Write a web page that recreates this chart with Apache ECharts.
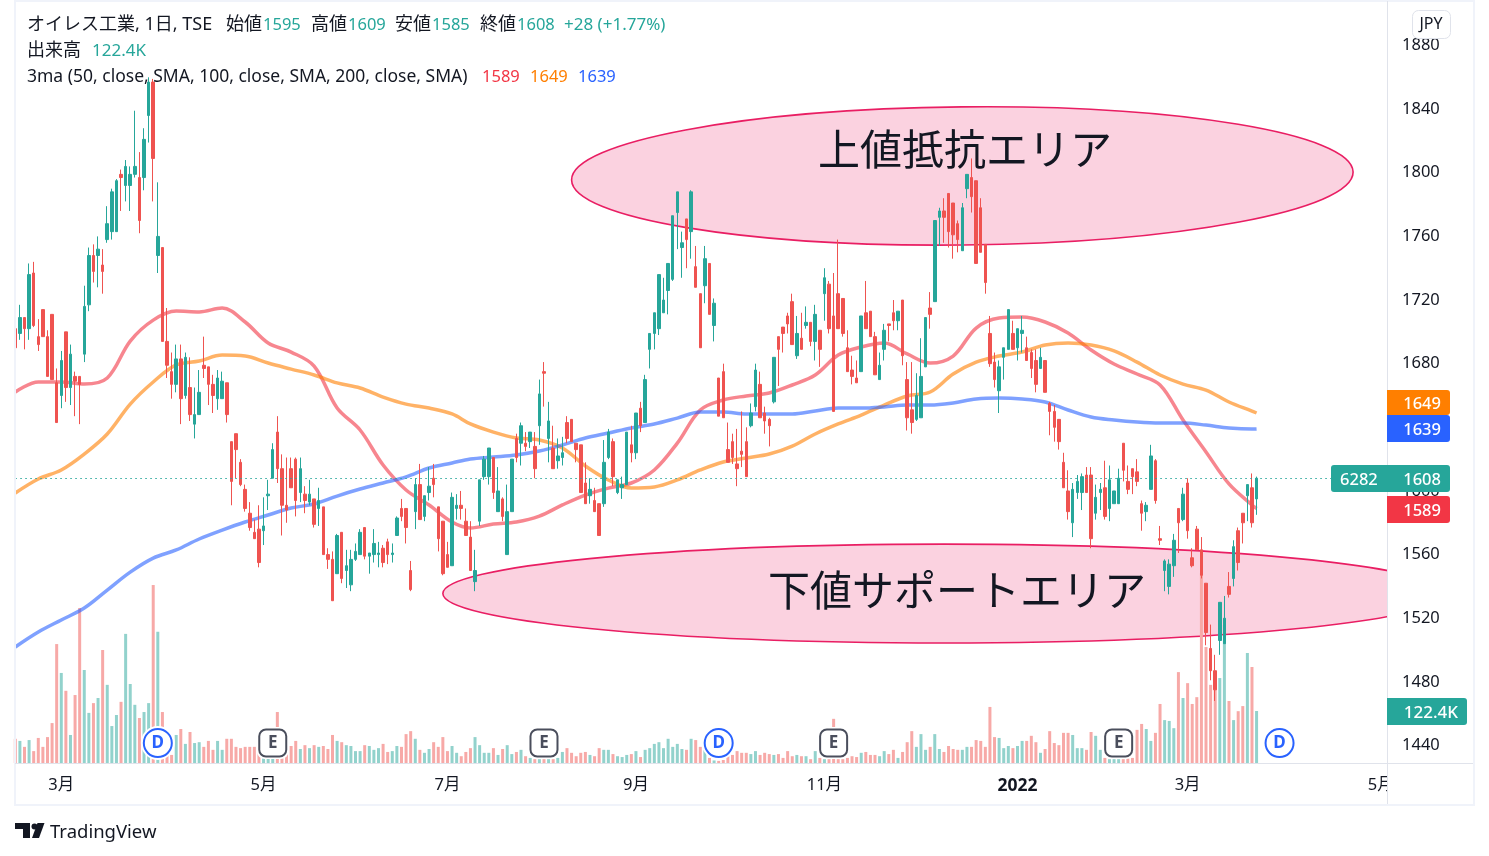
<!DOCTYPE html>
<html lang="ja">
<head>
<meta charset="UTF-8">
<title>オイレス工業</title>
<style>
  html, body { margin: 0; padding: 0; background: #fff; }
  #main { width: 1489px; height: 856px; }
</style>
</head>
<body>
<div id="main"></div>
<script src="https://cdn.jsdelivr.net/npm/echarts@6/dist/echarts.min.js"></script>
<script>
// 日足 OHLC (readings from the picture)
var opens = [
  1702,1699,1709,1702,1737,1697,1714,1697,1711,1668,
  1660,1700,1665,1672,1672,1686,1717,1748,1748,1742,
  1758,1763,1763,1799,1792,1792,1799,1797,1797,1836,
  1857,1748,1753,1694,1675,1667,1683,1660,1665,1642,
  1648,1679,1678,1667,1658,1658,1668,1631,1636,1618,
  1601,1586,1574,1576,1575,1597,1608,1637,1614,1591,
  1614,1620,1599,1598,1593,1595,1589,1590,1560,1557,
  1548,1574,1550,1541,1557,1560,1577,1559,1560,1560,
  1564,1568,1560,1572,1589,1589,1550,1587,1604,1584,
  1599,1608,1590,1581,1560,1553,1589,1591,1581,1571,
  1543,1581,1609,1609,1621,1587,1595,1560,1587,1633,
  1630,1630,1631,1628,1641,1675,1633,1627,1619,1621,
  1643,1645,1630,1629,1605,1597,1594,1592,1592,1621,
  1631,1599,1602,1604,1629,1624,1652,1643,1689,1699,
  1702,1712,1726,1733,1775,1753,1771,1763,1741,1724,
  1729,1743,1704,1671,1675,1626,1631,1617,1625,1631,
  1641,1653,1667,1649,1645,1656,1697,1703,1710,1719,
  1685,1696,1704,1706,1694,1701,1724,1730,1710,1724,
  1721,1690,1676,1671,1675,1712,1713,1697,1670,1689,
  1705,1712,1707,1720,1670,1651,1645,1646,1678,1715,
  1719,1772,1776,1787,1781,1768,1751,1790,1797,1795,
  1778,1755,1699,1681,1663,1684,1689,1699,1690,1699,
  1690,1687,1682,1677,1682,1655,1650,1645,1618,1600,
  1580,1599,1599,1610,1610,1586,1599,1602,1589,1592,
  1592,1630,1606,1614,1612,1592,1587,1601,1619,1570,
  1550,1540,1553,1589,1582,1605,1558,1576,1563,1542,
  1501,1487,1506,1504,1540,1545,1575,1586,1597,1602,
  1595
];
var closes = [
  1690,1709,1702,1736,1704,1692,1697,1672,1670,1643,
  1682,1665,1686,1669,1667,1716,1748,1738,1752,1738,
  1768,1788,1795,1797,1804,1799,1804,1770,1821,1857,
  1809,1760,1694,1679,1667,1683,1658,1684,1648,1648,
  1662,1677,1667,1660,1671,1669,1648,1606,1626,1604,
  1589,1577,1570,1555,1578,1598,1626,1614,1591,1588,
  1602,1594,1614,1594,1598,1579,1594,1560,1557,1531,
  1572,1545,1553,1557,1562,1574,1559,1561,1567,1561,
  1555,1560,1561,1583,1584,1577,1538,1604,1582,1597,
  1603,1604,1570,1548,1552,1596,1591,1589,1572,1550,
  1550,1607,1620,1627,1599,1600,1584,1587,1620,1621,
  1641,1628,1637,1614,1661,1674,1644,1614,1622,1624,
  1633,1631,1626,1599,1592,1601,1587,1572,1618,1637,
  1609,1607,1604,1637,1624,1649,1641,1670,1699,1712,
  1736,1720,1743,1773,1788,1756,1758,1788,1728,1690,
  1746,1711,1718,1647,1646,1618,1621,1614,1623,1609,
  1649,1676,1646,1644,1641,1684,1689,1699,1705,1692,
  1699,1689,1706,1694,1711,1689,1734,1702,1650,1702,
  1699,1675,1672,1668,1710,1702,1697,1673,1679,1701,
  1704,1707,1713,1685,1646,1643,1660,1672,1709,1711,
  1770,1776,1772,1763,1761,1758,1778,1799,1785,1743,
  1750,1731,1680,1670,1678,1690,1714,1689,1702,1701,
  1682,1677,1667,1684,1662,1650,1640,1631,1602,1587,
  1601,1606,1609,1599,1570,1596,1601,1584,1607,1600,
  1608,1613,1601,1609,1606,1586,1591,1622,1594,1569,
  1556,1554,1569,1580,1598,1575,1553,1563,1547,1511,
  1487,1475,1530,1520,1535,1565,1555,1580,1604,1580,
  1608
];
var highs = [
  1710,1717,1709,1743,1744,1708,1714,1701,1711,1677,
  1688,1700,1692,1675,1672,1729,1753,1755,1760,1752,
  1779,1790,1796,1802,1808,1804,1839,1813,1828,1860,
  1859,1794,1753,1715,1687,1692,1692,1687,1684,1665,
  1676,1697,1678,1673,1676,1675,1668,1631,1636,1620,
  1604,1593,1582,1591,1596,1607,1630,1647,1623,1621,
  1621,1621,1621,1603,1607,1595,1602,1590,1564,1562,
  1573,1574,1563,1563,1567,1576,1577,1561,1576,1568,
  1566,1570,1567,1584,1595,1589,1556,1608,1617,1597,
  1615,1617,1590,1581,1568,1599,1598,1600,1589,1581,
  1563,1607,1622,1627,1621,1615,1596,1604,1620,1636,
  1643,1637,1637,1637,1670,1681,1656,1641,1633,1634,
  1647,1645,1630,1629,1618,1608,1602,1592,1632,1639,
  1633,1607,1609,1637,1641,1649,1656,1673,1699,1712,
  1736,1734,1743,1773,1788,1763,1771,1789,1754,1724,
  1754,1743,1721,1671,1680,1643,1636,1639,1650,1640,
  1655,1680,1675,1653,1646,1684,1697,1703,1712,1724,
  1710,1712,1716,1706,1717,1701,1740,1732,1737,1758,
  1721,1701,1685,1682,1710,1732,1713,1700,1687,1705,
  1705,1720,1713,1720,1681,1681,1674,1696,1709,1725,
  1770,1778,1784,1787,1781,1770,1781,1799,1809,1795,
  1784,1755,1710,1687,1682,1690,1714,1707,1702,1710,
  1697,1689,1689,1690,1682,1656,1654,1645,1624,1613,
  1605,1610,1611,1615,1615,1604,1605,1619,1616,1600,
  1614,1630,1616,1614,1620,1594,1593,1629,1620,1578,
  1557,1557,1573,1589,1602,1608,1564,1578,1571,1542,
  1516,1497,1530,1534,1549,1569,1577,1586,1604,1611,
  1609
];
var lows = [
  1680,1695,1689,1695,1703,1688,1697,1672,1670,1643,
  1652,1656,1654,1647,1642,1681,1713,1731,1728,1724,
  1756,1758,1763,1776,1782,1776,1797,1762,1789,1819,
  1782,1737,1694,1671,1658,1662,1642,1658,1644,1633,
  1648,1671,1654,1649,1651,1658,1643,1591,1608,1603,
  1587,1575,1570,1552,1566,1588,1608,1605,1572,1580,
  1602,1584,1593,1586,1591,1577,1578,1560,1551,1531,
  1548,1542,1539,1537,1556,1560,1557,1548,1555,1552,
  1552,1554,1555,1572,1581,1567,1537,1576,1582,1581,
  1594,1596,1562,1547,1552,1553,1582,1582,1572,1550,
  1537,1578,1607,1604,1595,1587,1581,1560,1587,1618,
  1616,1625,1627,1608,1629,1653,1618,1614,1614,1616,
  1630,1631,1618,1599,1592,1592,1587,1572,1590,1620,
  1603,1598,1595,1604,1618,1620,1637,1643,1677,1689,
  1698,1712,1711,1732,1752,1734,1740,1746,1728,1690,
  1718,1711,1694,1647,1646,1618,1617,1603,1615,1609,
  1640,1650,1646,1636,1628,1655,1666,1687,1699,1692,
  1683,1689,1702,1691,1682,1678,1707,1699,1650,1702,
  1697,1675,1667,1668,1675,1702,1697,1673,1670,1682,
  1694,1701,1701,1679,1638,1636,1644,1646,1678,1702,
  1719,1754,1756,1753,1746,1750,1751,1784,1775,1743,
  1750,1724,1678,1665,1649,1670,1689,1689,1682,1687,
  1682,1671,1662,1677,1662,1635,1631,1626,1602,1582,
  1571,1595,1588,1599,1564,1582,1588,1582,1581,1592,
  1592,1606,1598,1598,1603,1575,1581,1601,1592,1566,
  1537,1535,1546,1561,1581,1570,1552,1563,1545,1503,
  1481,1468,1497,1504,1533,1540,1550,1567,1581,1577,
  1585
];
// 出来高 (K)
var volumes = [
  57,52,38,54,28,59,38,61,94,280,212,170,66,160,365,219,118,141,153,266,
  184,87,113,144,304,186,137,106,120,141,419,309,120,24,19,66,80,45,73,47,
  49,38,52,31,52,31,57,57,38,35,38,38,38,24,20,20,20,120,20,24,
  40,52,33,42,35,42,38,40,33,66,52,49,42,40,28,28,42,40,31,35,
  45,26,28,40,38,68,75,57,31,24,33,49,38,61,28,40,24,16,26,35,
  61,42,24,24,35,19,
  33,42,21,26,31,16,12,9,9,9,9,9,12,26,35,24,16,24,26,19,
  16,35,31,31,21,16,14,19,21,28,14,31,35,45,49,35,57,38,45,33,
  31,57,54,38,31,12,6,5,7,16,19,28,24,24,21,28,19,24,21,19,
  21,12,28,16,19,16,16,9,28,12,9,9,104,9,9,12,16,14,24,26,
  19,19,16,28,21,31,12,26,49,75,38,68,31,38,68,33,26,40,33,31,
  31,38,38,54,52,38,132,61,59,
  35,40,35,40,52,52,64,49,24,33,75,47,42,71,71,66,35,35,31,73,
  64,31,12,9,9,9,9,12,12,78,92,80,52,71,139,101,99,82,214,153,
  188,139,155,447,273,184,203,200,325,146,101,122,134,259,226,122.4
];
// 移動平均 (sampled along the curves)
var maIndex = [0,5,10,15,20,25,30,35,40,45,50,55,60,65,70,75,80,85,90,95,99,104,109,114,119,124,129,134,139,144,149,154,159,164,169,174,179,184,189,194,199,204,209,214,219,224,229,234,239,244,249,254,259,264,269,270];
var ma50 = [
  1662.2,1668.5,1668.5,1667.2,1671,1694.2,1707.4,1713.1,1712.5,1715,
  1706.2,1693,1687.3,1678.5,1652.1,1638.3,1616.3,1600.6,1591.2,1580.5,
  1576.7,1579.2,1580.5,1584.2,1591.2,1597.4,1601.8,1605,1613.2,1630.1,
  1650.9,1657.2,1659.7,1661.6,1666.6,1672.9,1685.4,1690.5,1693,1686.1,
  1680.4,1684.8,1702.4,1708.7,1709.3,1706.2,1699.3,1688.6,1679.8,1673.5,
  1666.6,1644.6,1624.5,1604.4,1591.2,1589
];
var ma100 = [
  1598.7,1607.5,1613.2,1623.2,1635.8,1654.6,1668.5,1679.2,1681.7,1685.4,
  1684.8,1680.4,1676.6,1672.9,1667.9,1664.7,1659,1654.6,1652.1,1648.4,
  1642.1,1637,1633.3,1632,1627,1615.7,1606.9,1601.8,1602.5,1606.9,
  1613.2,1618.2,1620.7,1623.2,1628.2,1635.8,1642.1,1647.7,1654,1659.7,
  1662.2,1673.5,1681,1684.8,1687.3,1691.7,1693,1691.7,1688,1681,
  1672.9,1667.2,1663.4,1655.9,1650.2,1649
];
var ma200 = [
  1501.9,1511.3,1518.9,1526.4,1537.7,1549,1557.8,1562.9,1569.8,1575.4,
  1580.5,1584.9,1589.3,1591.8,1596.8,1601.2,1605,1608.8,1614.4,1617.6,
  1620.1,1621.3,1622.6,1625.1,1628.9,1633.3,1636.4,1639.6,1642.1,1645.8,
  1649.6,1649.6,1648.4,1648.4,1648.4,1650.3,1652.1,1652.1,1652.8,1654,
  1654,1655.3,1657.8,1658.4,1657.8,1655.9,1650.9,1646.5,1644.6,1643.3,
  1642.7,1642.7,1641.4,1639.6,1638.9,1639
];
// 時間軸
var slotCount = 299;
var monthIndex = [10,54,94,135,176,218,255,297];
var monthNames = ['3月','5月','7月','9月','11月','2022','3月','5月'];
// 決算・配当マーカー
var divIndex = [31,153,275];
var earnIndex = [56,115,178,240];
// 楕円ゾーン
var zoneIndex = [205.9,201.8];
var zonePrice = [1798,1535.5];
var zoneIndexRadius = [85,108.8];
var zonePriceRadius = [43.4,31.1];
var zoneTilt = [0.0102,0];

var UP = '#26a69a', DOWN = '#ef5350';
var UP_VOL = '#92d2cc', DOWN_VOL = '#f7a9a7';
var FONT = "'Noto Sans','Noto Sans CJK JP',sans-serif";
var TEXT = '#131722';

var categories = [];
for (var i = 0; i < slotCount; i++) {
  var m = monthIndex.indexOf(i);
  categories.push(m >= 0 ? monthNames[m] : '');
}
var candleData = [], volumeData = [];
for (var i = 0; i < opens.length; i++) {
  candleData.push([opens[i], closes[i], lows[i], highs[i]]);
  volumeData.push({
    value: volumes[i],
    itemStyle: { color: closes[i] >= opens[i] ? UP_VOL : DOWN_VOL }
  });
}
function maLine(values) {
  return values.map(function (v, k) { return [maIndex[k], v]; });
}
function lineSeries(name, values, color) {
  return {
    name: name, type: 'line', xAxisIndex: 0, yAxisIndex: 0, z: 3,
    data: maLine(values), symbol: 'none', smooth: 0.35, silent: true,
    lineStyle: { color: color, width: 3.5, opacity: 0.6 }
  };
}
function markerData(list) {
  return list.map(function (x) { return [x, 47]; });
}

var zoneData = zoneIndex.map(function (x, k) {
  return [x, zonePrice[k], zoneIndexRadius[k], zonePriceRadius[k], zoneTilt[k]];
});

function renderZone(params, api) {
  var c = api.coord([api.value(0), api.value(1)]);
  var e = api.coord([api.value(0) + api.value(2), api.value(1) - api.value(3)]);
  var box = params.coordSys;
  var el = {
    type: 'ellipse',
    shape: { cx: c[0], cy: c[1], rx: e[0] - c[0], ry: e[1] - c[1] },
    originX: c[0], originY: c[1], rotation: api.value(4),
    style: { fill: 'rgba(233,30,99,0.2)', stroke: '#e91e63', lineWidth: 1.6 }
  };
  if (api.value(4) === 0) {
    el.clipPath = { type: 'rect', shape: { x: box.x, y: 0, width: box.width + 2, height: 800 } };
  }
  return el;
}

function txt(str, x, y, color, size, opt) {
  opt = opt || {};
  return {
    type: 'text', z: 60,
    style: {
      text: str, x: x, y: y, fill: color,
      font: (opt.weight || 'normal') + ' ' + size + 'px ' + FONT,
      textAlign: opt.align || 'left', textVerticalAlign: 'middle'
    }
  };
}
function tag(x, y, w, h, color, r) {
  return { type: 'rect', z: 55, shape: { x: x, y: y, width: w, height: h, r: r || [0,3,3,0] }, style: { fill: color } };
}

var graphics = [
  // 枠線
  { type: 'rect', z: 40, shape: { x: 1388, y: 765, width: 85, height: 39 }, style: { fill: '#fff' } },
  { type: 'rect', z: 41, shape: { x: 15, y: 1, width: 1459, height: 804 }, style: { fill: 'none', stroke: '#f0f3fa', lineWidth: 2 } },
  { type: 'line', z: 41, shape: { x1: 1387.5, y1: 1, x2: 1387.5, y2: 804 }, style: { stroke: '#e0e3eb', lineWidth: 1 } },
  { type: 'line', z: 41, shape: { x1: 15, y1: 763.5, x2: 1473, y2: 763.5 }, style: { stroke: '#e0e3eb', lineWidth: 1 } },
  // 凡例
  txt('オイレス工業, 1日, TSE', 27, 25, TEXT, 18),
  txt('始値', 226, 25, TEXT, 18), txt('1595', 263, 25, UP, 16.5),
  txt('高値', 311, 25, TEXT, 18), txt('1609', 348, 25, UP, 16.5),
  txt('安値', 395, 25, TEXT, 18), txt('1585', 432, 25, UP, 16.5),
  txt('終値', 480, 25, TEXT, 18), txt('1608', 517, 25, UP, 16.5),
  txt('+28 (+1.77%)', 564, 25, UP, 17),
  txt('出来高', 27, 51, TEXT, 18), txt('122.4K', 92, 51, UP, 17),
  txt('3ma (50, close, SMA, 100, close, SMA, 200, close, SMA)', 27, 77, TEXT, 17.5),
  txt('1589', 482, 77, '#f23645', 16.5), txt('1649', 530, 77, '#ff7f00', 16.5), txt('1639', 578, 77, '#2962ff', 16.5),
  // 注釈
  txt('上値抵抗エリア', 965, 153, TEXT, 42, { align: 'center' }),
  txt('下値サポートエリア', 957, 594, TEXT, 42, { align: 'center' }),
  // 通貨
  { type: 'rect', z: 55, shape: { x: 1412.5, y: 10.5, width: 38, height: 28, r: 6 }, style: { fill: '#fff', stroke: '#e0e3eb', lineWidth: 1 } },
  txt('JPY', 1431, 24, TEXT, 16, { align: 'center' }),
  // 価格タグ
  tag(1387, 390, 63, 25, '#ff7f00'),
  tag(1387, 415, 63, 27, '#2962ff'),
  tag(1331, 465, 119, 27, UP, 3),
  tag(1387, 496, 63, 27, '#f23645'),
  tag(1387, 698, 80, 27, UP),
  txt('1649', 1441, 404, '#fff', 16.5, { align: 'right', weight: '500' }),
  txt('1639', 1441, 430, '#fff', 16.5, { align: 'right', weight: '500' }),
  txt('6282', 1340, 480, '#fff', 16.5, { weight: '500' }),
  txt('1608', 1441, 480, '#fff', 16.5, { align: 'right', weight: '500' }),
  txt('1589', 1441, 511, '#fff', 16.5, { align: 'right', weight: '500' }),
  txt('122.4K', 1458, 713, '#fff', 17, { align: 'right', weight: '500' }),
  // ロゴ
  { type: 'polygon', z: 55, shape: { points: [[15,823],[30,823],[30,838],[23,838],[23,829],[15,829]] }, style: { fill: TEXT } },
  { type: 'circle', z: 55, shape: { cx: 34.5, cy: 826.5, r: 3 }, style: { fill: TEXT } },
  { type: 'polygon', z: 55, shape: { points: [[37.5,823],[44.5,823],[39,838],[32,838]] }, style: { fill: TEXT } },
  txt('TradingView', 50, 833, TEXT, 18.5)
];

var chart = echarts.init(document.getElementById('main'));
chart.setOption({
  animation: false,
  backgroundColor: '#fff',
  textStyle: { fontFamily: FONT },
  grid: [
    { left: 15.3, top: 45.5, width: 1370, height: 700 },
    { left: 15.3, top: 1, width: 1370, height: 762 }
  ],
  xAxis: [
    { type: 'category', gridIndex: 0, data: categories, boundaryGap: false, show: false },
    {
      type: 'category', gridIndex: 1, data: categories, boundaryGap: false,
      axisLine: { show: false }, axisTick: { show: false },
      axisLabel: {
        margin: 14, color: TEXT, fontSize: 16.5, fontFamily: FONT,
        interval: function (idx) { return monthIndex.indexOf(idx) >= 0; },
        formatter: function (v) { return v === '2022' ? '{y|2022}' : v; },
        rich: { y: { fontWeight: 'bold', fontSize: 17.5, color: TEXT, fontFamily: FONT } }
      }
    }
  ],
  yAxis: [
    {
      type: 'value', gridIndex: 0, position: 'right', min: 1440, max: 1880, interval: 40,
      axisLine: { show: false }, axisTick: { show: false }, splitLine: { show: false },
      axisLabel: {
        margin: 16.7, color: TEXT, fontSize: 16.5, fontFamily: FONT, padding: [6, 0, 0, 0],
        formatter: function (v) { return String(v); }
      }
    },
    {
      type: 'value', gridIndex: 1, min: 0, max: 1794, show: false, splitLine: { show: false }
    }
  ],
  series: [
    {
      name: 'ゾーン', type: 'custom', xAxisIndex: 0, yAxisIndex: 0, z: 1, silent: true,
      renderItem: renderZone, data: zoneData, encode: { x: 0, y: 1 }
    },
    {
      name: '出来高', type: 'bar', xAxisIndex: 1, yAxisIndex: 1, z: 2, barWidth: 3,
      silent: true, data: volumeData
    },
    lineSeries('MA50', ma50, '#f23645'),
    lineSeries('MA100', ma100, '#ff7f00'),
    lineSeries('MA200', ma200, '#2962ff'),
    {
      name: 'オイレス工業', type: 'candlestick', xAxisIndex: 0, yAxisIndex: 0, z: 4,
      barWidth: 3, silent: true, data: candleData,
      itemStyle: { color: UP, color0: DOWN, borderColor: UP, borderColor0: DOWN, borderWidth: 1 },
      markLine: {
        silent: true, symbol: 'none', label: { show: false },
        lineStyle: { color: UP, type: [1.5, 3.5], width: 1, opacity: 1 },
        data: [{ yAxis: closes[closes.length - 1] }]
      }
    },
    {
      name: 'halo', type: 'scatter', xAxisIndex: 1, yAxisIndex: 1, z: 5, silent: true,
      symbol: 'circle', symbolSize: 34, itemStyle: { color: '#fff', opacity: 1 }, data: markerData(divIndex)
    },
    {
      name: 'halo2', type: 'scatter', xAxisIndex: 1, yAxisIndex: 1, z: 5, silent: true,
      symbol: 'roundRect', symbolSize: 32, itemStyle: { color: '#fff', opacity: 1 }, data: markerData(earnIndex)
    },
    {
      name: '配当', type: 'scatter', xAxisIndex: 1, yAxisIndex: 1, z: 6, silent: true,
      symbol: 'circle', symbolSize: 28, data: markerData(divIndex),
      itemStyle: { color: '#fff', borderColor: '#2962ff', borderWidth: 2, opacity: 1 },
      label: { show: true, position: 'inside', formatter: 'D', color: '#2962ff', fontSize: 17, fontWeight: 'bold', fontFamily: FONT }
    },
    {
      name: '決算', type: 'scatter', xAxisIndex: 1, yAxisIndex: 1, z: 6, silent: true,
      symbol: 'roundRect', symbolSize: 27, data: markerData(earnIndex),
      itemStyle: { color: '#fff', borderColor: '#4a4e5c', borderWidth: 2, opacity: 1 },
      label: { show: true, position: 'inside', formatter: 'E', color: '#4a4e5c', fontSize: 17, fontWeight: 'bold', fontFamily: FONT }
    }
  ],
  graphic: { elements: graphics }
});
</script>
</body>
</html>
